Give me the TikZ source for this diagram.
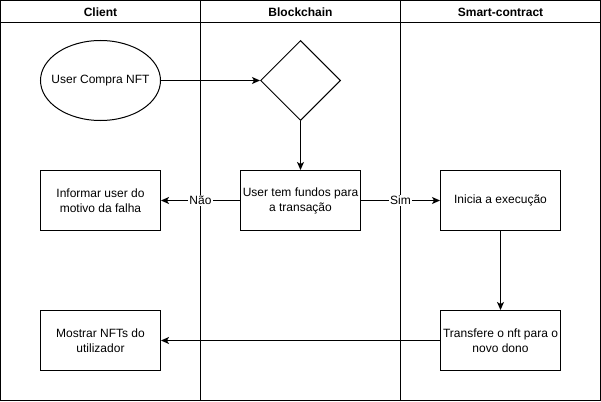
\documentclass[tikz,border=0pt]{standalone}
\usepackage{fontspec}
\setmainfont{Liberation Sans}
\usetikzlibrary{shapes.geometric,arrows.meta}
\begin{document}
\begin{tikzpicture}[x=1pt,y=-1pt,
  lane/.style={draw=black,line width=1pt},
  proc/.style={draw=black,line width=1pt,fill=white,minimum width=120pt,minimum height=60pt,align=center,font=\fontsize{12}{15}\selectfont,inner sep=1pt},
  flow/.style={draw=black,line width=1pt,-{Stealth[length=8pt,width=7pt,inset=2pt]}},
  lbl/.style={fill=white,inner sep=1pt,font=\fontsize{12}{14}\selectfont},
  hdr/.style={font=\bfseries\fontsize{12}{14}\selectfont}]
\useasboundingbox (0,0) rectangle (601,401);
% lanes
\draw[lane] (0.5,0.5) rectangle (600.5,400.5);
\draw[lane] (0.5,22.5) -- (600.5,22.5);
\draw[lane] (200.5,0.5) -- (200.5,400.5);
\draw[lane] (400.5,0.5) -- (400.5,400.5);
\node[hdr] (hc) at (100.5,12) {Client};
\node[hdr] (hb) at (300.5,12) {Blockchain};
\node[hdr] (hs) at (500.5,12) {Smart-contract};
% nodes
\node[ellipse,draw,line width=1pt,fill=white,minimum width=120pt,minimum height=80pt,inner sep=0pt,font=\fontsize{12}{15}\selectfont] (start) at (100.5,80.5) {\makebox[0pt]{User Compra NFT}};
\node[diamond,draw,line width=1pt,fill=white,minimum width=80pt,minimum height=80pt,inner sep=0pt] (dec) at (300.5,80.5) {};
\node[proc] (fund) at (300.5,200.5) {User tem fundos para\\a transação};
\node[proc] (info) at (100.5,200.5) {Informar user do\\motivo da falha};
\node[proc] (exec) at (500.5,200.5) {Inicia a execução};
\node[proc] (trans) at (500.5,340.5) {Transfere o nft para o\\novo dono};
\node[proc] (show) at (100.5,340.5) {Mostrar NFTs do\\utilizador};
% connectors
\draw[flow] (start.east) -- (dec.west);
\draw[flow] (dec.south) -- (fund.north);
\draw[flow] (fund.west) -- node[lbl,pos=0.5] {Não} (info.east);
\draw[flow] (fund.east) -- node[lbl,pos=0.5] {Sim} (exec.west);
\draw[flow] (exec.south) -- (trans.north);
\draw[flow] (trans.west) -- (show.east);
\end{tikzpicture}
\end{document}
